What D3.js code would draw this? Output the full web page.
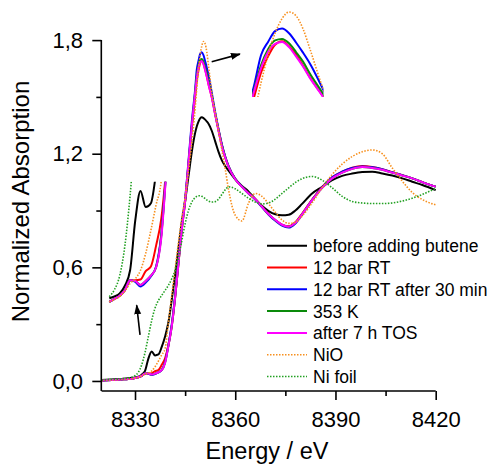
<!DOCTYPE html>
<html>
<head>
<meta charset="utf-8">
<script src="https://cdn.jsdelivr.net/npm/d3@7"></script>
<style>
body { margin: 0; background: #fff; }
svg text { font-family: Arial, "Liberation Sans", sans-serif; fill: #000; }
</style>
</head>
<body>
<svg id="chart" width="493" height="465"></svg>
<script>
// energy grid (eV) shared by every spectrum
const energy = [8320, 8323, 8326, 8328, 8329, 8330, 8331, 8332, 8333, 8334, 8335, 8336, 8337, 8338, 8339, 8340,
    8341, 8342, 8343, 8344, 8345, 8346, 8347, 8348, 8348.5, 8349, 8349.5, 8350, 8350.5, 8351, 8351.5, 8352,
    8353, 8354, 8355, 8356, 8357, 8358, 8360, 8362, 8364, 8366, 8368, 8370, 8372, 8374, 8376, 8378, 8380,
    8383, 8386, 8389, 8392, 8395, 8398, 8401, 8404, 8407, 8410, 8413, 8416, 8420];

const beforeButene = [.005, .008, .011, .014, .0166, .019, .023, .033, .053, .118, .156, .135, .140, .18, .235, .31,
    .43, .56, .70, .84, .95, 1.08, 1.21, 1.31, 1.345, 1.37, 1.387, 1.392, 1.388, 1.38, 1.37, 1.358,
    1.32, 1.265, 1.21, 1.165, 1.135, 1.11, 1.065, 1.03, 1.0, .96, .925, .897, .88, .875, .878, .90, .935,
    .99, 1.025, 1.06, 1.083, 1.095, 1.103, 1.105, 1.096, 1.085, 1.07, 1.052, 1.035, 1.008];

const bar12RT = [.003, .005, .008, .010, .012, .016, .020, .027, .040, .040, .041, .052, .058, .085, .12, .19,
    .29, .44, .62, .80, .95, 1.14, 1.34, 1.50, 1.585, 1.64, 1.68, 1.692, 1.675, 1.645, 1.608, 1.567,
    1.497, 1.41, 1.325, 1.245, 1.183, 1.133, 1.067, 1.027, .992, .961, .921, .881, .85, .826, .817, .838, .883,
    .958, 1.024, 1.075, 1.105, 1.126, 1.135, 1.13, 1.118, 1.102, 1.087, 1.07, 1.05, 1.026];

const bar12RT30 = [.003, .005, .008, .010, .012, .016, .020, .027, .040, .038, .032, .037, .045, .058, .10, .19,
    .30, .45, .63, .81, .96, 1.16, 1.37, 1.54, 1.645, 1.69, 1.727, 1.736, 1.72, 1.688, 1.653, 1.615,
    1.52, 1.42, 1.33, 1.25, 1.185, 1.135, 1.068, 1.027, .99, .958, .918, .878, .846, .82, .81, .832, .878,
    .955, 1.022, 1.075, 1.105, 1.125, 1.133, 1.128, 1.118, 1.102, 1.087, 1.07, 1.05, 1.026];

const k353 = [.003, .005, .008, .010, .012, .016, .020, .027, .040, .039, .034, .039, .046, .057, .098, .187,
    .29, .44, .62, .80, .95, 1.145, 1.345, 1.525, 1.61, 1.665, 1.695, 1.70, 1.685, 1.655, 1.622, 1.58,
    1.505, 1.41, 1.325, 1.245, 1.182, 1.132, 1.066, 1.026, .99, .96, .92, .88, .849, .824, .814, .835, .88,
    .955, 1.02, 1.07, 1.10, 1.12, 1.13, 1.125, 1.115, 1.10, 1.085, 1.07, 1.05, 1.026];

const after7hTOS = [.003, .005, .008, .010, .012, .016, .020, .027, .040, .039, .034, .039, .046, .057, .095, .185,
    .29, .44, .62, .80, .95, 1.15, 1.35, 1.52, 1.60, 1.655, 1.683, 1.69, 1.672, 1.64, 1.605, 1.565,
    1.495, 1.405, 1.32, 1.24, 1.18, 1.13, 1.065, 1.025, .99, .96, .92, .88, .85, .825, .815, .835, .88,
    .955, 1.02, 1.07, 1.10, 1.12, 1.13, 1.125, 1.115, 1.10, 1.085, 1.07, 1.05, 1.026];

const nio = [.003, .005, .008, .010, .012, .015, .019, .026, .036, .042, .053, .075, .105, .138, .17, .31,
    .45, .59, .73, .86, .97, 1.11, 1.26, 1.44, 1.55, 1.645, 1.72, 1.77, 1.793, 1.78, 1.735, 1.665,
    1.52, 1.42, 1.32, 1.22, 1.12, 1.01, .875, .845, .94, .99, .975, .935, .89, .85, .832, .838, .87,
    .94, 1.02, 1.09, 1.145, 1.185, 1.21, 1.22, 1.20, 1.125, 1.055, .995, .958, .93];

const niFoil = [.005, .008, .011, .015, .0187, .028, .046, .085, .15, .235, .32, .385, .425, .452, .478, .505,
    .54, .585, .65, .74, .83, .90, .945, .968, .975, .978, .978, .975, .97, .963, .956, .95,
    .945, .947, .96, .985, 1.01, 1.025, 1.015, .99, .965, .945, .935, .94, .96, .99, 1.02, 1.048, 1.068,
    1.08, 1.06, 1.02, .975, .948, .94, .937, .937, .94, .95, .965, .985, 1.017];

const yMajorTicks = [0, 0.6, 1.2, 1.8];
const yMinorTicks = [0.3, 0.9, 1.5];
const xMajorTicks = [8330, 8360, 8390, 8420];
const xMinorTicks = [8345, 8375, 8405];

const series = [
    {name: "before adding butene", values: beforeButene, color: "#000000", dotted: false},
    {name: "12 bar RT", values: bar12RT, color: "#ff0000", dotted: false},
    {name: "12 bar RT after 30 min", values: bar12RT30, color: "#0000ff", dotted: false},
    {name: "353 K", values: k353, color: "#0a8a0a", dotted: false},
    {name: "after 7 h TOS", values: after7hTOS, color: "#ff00ff", dotted: false},
    {name: "NiO", values: nio, color: "#f7901e", dotted: true},
    {name: "Ni foil", values: niFoil, color: "#22a022", dotted: true}
];

const svg = d3.select("#chart");
const font = "Arial, 'Liberation Sans', sans-serif";

const x = d3.scaleLinear().domain([8320, 8420]).range([101.6, 435.7]);
const y = d3.scaleLinear().domain([-0.053, 1.8]).range([391, 40.1]);

function pairs(s) {
    return energy.map((e, i) => [e, s.values[i]]);
}

function drawSeries(g, sx, sy, eMin, eMax) {
    let line = d3.line()
        .x(d => sx(d[0]))
        .y(d => sy(d[1]))
        .curve(d3.curveMonotoneX);
    for (let s of series) {
        let pts = pairs(s).filter(d => d[0] >= eMin && d[0] <= eMax);
        let path = g.append("path")
            .attr("d", line(pts))
            .attr("fill", "none")
            .attr("stroke", s.color)
            .attr("stroke-linejoin", "round");
        if (s.dotted) {
            path.attr("stroke-width", 1.6).attr("stroke-dasharray", "1.5 1.5");
        } else {
            path.attr("stroke-width", 2);
        }
    }
}

// main spectra
drawSeries(svg.append("g"), x, y, 8320, 8420);

// inset: pre-edge region, magnified
const xPre = d3.scaleLinear().domain([8329, 8341]).range([109.3, 171.7]);
const yPre = d3.scaleLinear().domain([0, 0.168]).range([311.1, 181.7]);
let defs = svg.append("defs");
defs.append("clipPath").attr("id", "clipPre")
    .append("rect").attr("x", 105).attr("y", yPre(0.168)).attr("width", 80).attr("height", 140);
drawSeries(svg.append("g").attr("clip-path", "url(#clipPre)"), xPre, yPre, 8329, 8343);

// inset: white line maximum, magnified
const xTop = d3.scaleLinear().domain([8347.85, 8352.93]).range([252, 323]);
const yTop = d3.scaleLinear().domain([1.5, 1.75]).range([97, 24.5]);
defs.append("clipPath").attr("id", "clipTop")
    .append("rect").attr("x", xTop(8347.85)).attr("y", 0).attr("width", 71.5).attr("height", yTop(1.5));
drawSeries(svg.append("g").attr("clip-path", "url(#clipTop)"), xTop, yTop, 8346, 8355);

// axes
let fmt = v => d3.format(".1f")(v).replace(".", ",");

let yAxis = svg.append("g").attr("transform", "translate(101.3,0)")
    .call(d3.axisLeft(y).tickValues(yMajorTicks).tickSize(9).tickPadding(9.3).tickFormat(fmt));
let yMinor = svg.append("g").attr("transform", "translate(101.3,0)")
    .call(d3.axisLeft(y).tickValues(yMinorTicks).tickSize(5).tickFormat(""));
let xAxis = svg.append("g").attr("transform", "translate(0,391)")
    .call(d3.axisBottom(x).tickValues(xMajorTicks).tickSize(9).tickPadding(11).tickFormat(d3.format("d")));
let xMinor = svg.append("g").attr("transform", "translate(0,391)")
    .call(d3.axisBottom(x).tickValues(xMinorTicks).tickSize(5).tickFormat(""));

yMinor.select(".domain").remove();
xMinor.select(".domain").remove();

// y axis line starts at the 1,8 tick, x axis line meets it at the corner
yAxis.select(".domain").attr("d", "M0," + y(1.8) + "V391");
xAxis.select(".domain").attr("d", "M" + x(8320) + ",0H" + x(8420));

for (let g of [yAxis, yMinor, xAxis, xMinor]) {
    g.attr("font-family", font).attr("font-size", 22);
    g.selectAll("path, line").attr("stroke", "#000").attr("stroke-width", 1.6);
    g.selectAll("text").attr("fill", "#000");
}

svg.append("text")
    .attr("x", 267).attr("y", 459)
    .attr("text-anchor", "middle")
    .attr("font-size", 23.5)
    .text("Energy / eV");

svg.append("text")
    .attr("transform", "translate(28.5,201.5) rotate(-90)")
    .attr("text-anchor", "middle")
    .attr("font-size", 24)
    .text("Normalized Absorption");

// legend
let legend = svg.append("g").attr("transform", "translate(267,245.7)");
series.forEach((s, i) => {
    let row = legend.append("g").attr("transform", "translate(0," + (i * 21.8) + ")");
    let l = row.append("line")
        .attr("x1", 0).attr("x2", 40)
        .attr("stroke", s.color);
    if (s.dotted) {
        l.attr("stroke-width", 1.6).attr("stroke-dasharray", "1.5 1.5");
    } else {
        l.attr("stroke-width", 2);
    }
    row.append("text")
        .attr("x", 46).attr("y", 6.5)
        .attr("font-size", 17.5)
        .text(s.name);
});

// arrows pointing to the insets
defs.append("marker").attr("id", "head")
    .attr("viewBox", "0 0 10 10").attr("refX", 9).attr("refY", 5)
    .attr("markerWidth", 10).attr("markerHeight", 10)
    .attr("markerUnits", "userSpaceOnUse")
    .attr("orient", "auto")
    .append("path").attr("d", "M0,1.5L10,5L0,8.5Z").attr("fill", "#000");

let arrows = [
    [[8352.95, 1.686], [8361.4, 1.726]],
    [[8331.5, 0.243], [8330.5, 0.40]]
];
for (let a of arrows) {
    svg.append("line")
        .attr("x1", x(a[0][0])).attr("y1", y(a[0][1]))
        .attr("x2", x(a[1][0])).attr("y2", y(a[1][1]))
        .attr("stroke", "#000").attr("stroke-width", 1.6)
        .attr("marker-end", "url(#head)");
}
</script>
</body>
</html>
